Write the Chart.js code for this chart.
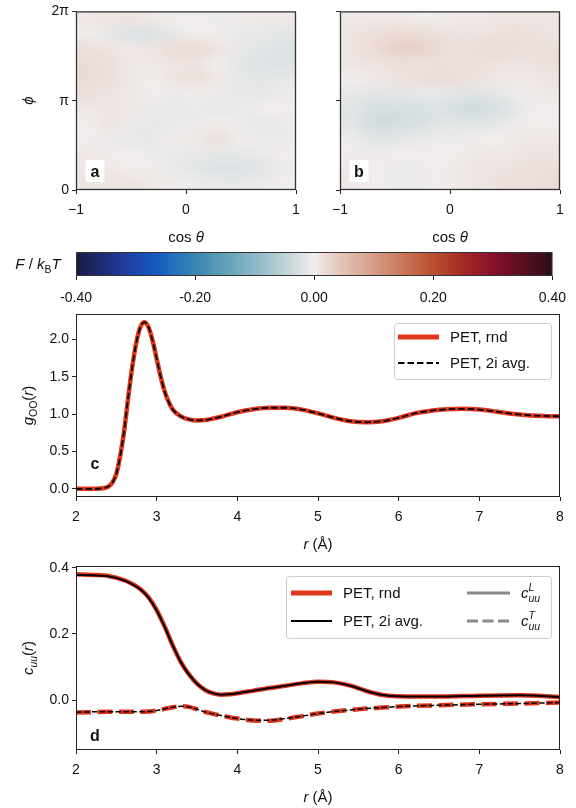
<!DOCTYPE html>
<html>
<head>
<meta charset="utf-8">
<script src="https://cdn.jsdelivr.net/npm/chart.js@4.4.0/dist/chart.umd.min.js"></script>
<style>
  body { margin: 0; background: #fff; }
  #page { position: relative; width: 576px; height: 808px; }
  #page canvas { position: absolute; left: 0; top: 0; pointer-events: none; }
</style>
</head>
<body>
<div id="page">
  <canvas id="mapA" width="576" height="808"></canvas>
  <canvas id="mapB" width="576" height="808"></canvas>
  <canvas id="cbar" width="576" height="808"></canvas>
  <canvas id="gofr" width="576" height="808"></canvas>
  <canvas id="cuu" width="576" height="808"></canvas>
</div>
<script>
const FONT = '"Liberation Sans", Arial, Helvetica, sans-serif';
Chart.defaults.font.family = FONT;
Chart.defaults.font.size = 14;
Chart.defaults.color = '#111';
Chart.defaults.animation = false;

// free energy maps, rows from phi = 2pi (top) down to 0, columns cos(theta) = -1 .. 1
const cosTicks = [-1, 0, 1];
const cosTickLabels = ['−1', '0', '1'];
const phiTicks = [0, Math.PI, 2 * Math.PI];
const phiTickLabels = ['0', 'π', '2π'];

const mapA = [
  [0.005, 0.01, 0.01, 0.005, 0, 0, -0.005, 0, 0.005, 0.005],
  [0, -0.01, -0.02, -0.02, -0.01, 0, 0, -0.01, -0.01, -0.015],
  [0.015, 0.01, 0.005, 0.01, 0.02, 0.02, 0.01, -0.01, -0.015, -0.02],
  [0.02, 0.015, 0.005, 0.005, 0.01, 0.01, 0, -0.015, -0.02, -0.02],
  [0.02, 0.015, 0.005, 0, 0.01, 0.015, 0.005, -0.01, -0.015, -0.01],
  [0.015, 0.01, 0.005, 0, -0.005, 0, -0.005, -0.01, -0.01, -0.005],
  [0.005, 0.01, 0.005, -0.005, -0.01, -0.005, -0.01, -0.005, 0, 0],
  [0, 0.01, -0.005, -0.01, -0.005, -0.005, 0, -0.005, -0.01, -0.005],
  [0, -0.005, -0.01, -0.01, 0, 0.005, 0.015, 0, -0.005, -0.005],
  [0.005, 0, 0, -0.005, -0.005, -0.01, -0.01, -0.01, -0.005, 0],
  [0.005, 0.005, 0, 0, -0.01, -0.015, -0.02, -0.02, -0.015, -0.005],
  [0.01, 0.01, 0.01, 0.005, 0, -0.005, -0.01, -0.01, -0.005, 0]
];
const mapB = [
  [0.005, 0.005, 0.005, 0, 0, 0.005, 0.005, 0.01, 0.01, 0.01],
  [0.01, 0.015, 0.02, 0.02, 0.015, 0.01, 0.01, 0.015, 0.015, 0.01],
  [0.01, 0.02, 0.03, 0.03, 0.02, 0.015, 0.02, 0.02, 0.015, 0.015],
  [0.01, 0.01, 0.015, 0.015, 0.015, 0.015, 0.015, 0.01, 0.01, 0.015],
  [0, 0.005, 0.01, 0.015, 0.02, 0.015, 0.01, 0.005, 0.005, 0.01],
  [-0.01, -0.015, -0.015, -0.01, -0.01, -0.015, -0.015, -0.01, 0, 0.005],
  [-0.015, -0.025, -0.025, -0.025, -0.02, -0.03, -0.03, -0.02, -0.005, 0],
  [-0.015, -0.03, -0.03, -0.025, -0.015, -0.015, -0.015, -0.01, 0, 0],
  [-0.005, -0.015, -0.015, -0.01, -0.005, -0.005, 0, 0, 0.005, 0.005],
  [0, -0.005, 0, 0, 0, 0, 0.005, 0.005, 0.01, 0.01],
  [0.005, 0, -0.005, -0.005, 0, 0.005, 0.01, 0.01, 0.015, 0.015],
  [0.005, 0, -0.005, -0.005, 0, 0.005, 0.01, 0.015, 0.015, 0.02]
];

const cbarTicks = [-0.4, -0.2, 0, 0.2, 0.4];

// oxygen-oxygen rdf
const rG = [2.0, 2.1, 2.2, 2.3, 2.35, 2.4, 2.45, 2.5, 2.55, 2.6, 2.65, 2.7, 2.75, 2.8, 2.85, 2.9,
  2.95, 3.0, 3.05, 3.1, 3.15, 3.2, 3.3, 3.4, 3.5, 3.6, 3.7, 3.8, 4.0, 4.2, 4.4, 4.6, 4.8, 5.0,
  5.2, 5.4, 5.6, 5.8, 6.0, 6.2, 6.4, 6.6, 6.8, 7.0, 7.2, 7.4, 7.6, 7.8, 8.0];
const gRnd = [0, 0, 0, 0.003, 0.01, 0.03, 0.08, 0.2, 0.45, 0.8, 1.25, 1.65, 1.97, 2.17, 2.23, 2.16,
  1.98, 1.74, 1.5, 1.3, 1.16, 1.06, 0.97, 0.93, 0.915, 0.92, 0.94, 0.965, 1.025, 1.065, 1.085, 1.085, 1.06, 1.01,
  0.95, 0.905, 0.89, 0.905, 0.95, 1.01, 1.045, 1.065, 1.07, 1.06, 1.035, 1.005, 0.985, 0.975, 0.97];
const gAvg = [0, 0, 0, 0.003, 0.01, 0.03, 0.08, 0.2, 0.45, 0.8, 1.25, 1.65, 1.97, 2.17, 2.23, 2.16,
  1.98, 1.74, 1.5, 1.3, 1.16, 1.06, 0.97, 0.93, 0.915, 0.92, 0.94, 0.965, 1.025, 1.065, 1.085, 1.085, 1.06, 1.01,
  0.95, 0.905, 0.89, 0.905, 0.95, 1.01, 1.045, 1.065, 1.07, 1.06, 1.035, 1.005, 0.985, 0.975, 0.97];

// dipole correlation, longitudinal (L) and transverse (T)
const rC = [2.0, 2.2, 2.4, 2.6, 2.8, 2.9, 3.0, 3.1, 3.2, 3.3, 3.4, 3.5, 3.6, 3.7, 3.8, 3.9, 4.0,
  4.2, 4.4, 4.6, 4.8, 5.0, 5.2, 5.4, 5.6, 5.8, 6.0, 6.2, 6.5, 7.0, 7.5, 8.0];
const cLRnd = [0.380, 0.378, 0.375, 0.362, 0.335, 0.31, 0.272, 0.222, 0.165, 0.115, 0.078, 0.05, 0.031,
  0.021, 0.017, 0.018, 0.021, 0.029, 0.037, 0.044, 0.051, 0.056, 0.054, 0.044, 0.028, 0.016, 0.012,
  0.011, 0.011, 0.014, 0.015, 0.01];
const cTRnd = [-0.037, -0.036, -0.035, -0.035, -0.035, -0.034, -0.031, -0.026, -0.021, -0.018, -0.02,
  -0.027, -0.035, -0.041, -0.046, -0.051, -0.055, -0.061, -0.062, -0.056, -0.048, -0.04, -0.034, -0.029,
  -0.025, -0.022, -0.019, -0.017, -0.015, -0.012, -0.01, -0.007];
const cLAvg = [0.378, 0.377, 0.374, 0.361, 0.334, 0.309, 0.271, 0.221, 0.165, 0.115, 0.078, 0.05, 0.031,
  0.021, 0.017, 0.018, 0.021, 0.029, 0.037, 0.044, 0.051, 0.056, 0.054, 0.044, 0.028, 0.016, 0.012,
  0.011, 0.011, 0.014, 0.015, 0.01];
const cTAvg = [-0.036, -0.035, -0.035, -0.035, -0.035, -0.034, -0.031, -0.026, -0.021, -0.018, -0.02,
  -0.027, -0.035, -0.041, -0.046, -0.051, -0.055, -0.06, -0.06, -0.055, -0.048, -0.04, -0.034, -0.029,
  -0.025, -0.022, -0.019, -0.017, -0.015, -0.012, -0.01, -0.007];

const rTicks = [2, 3, 4, 5, 6, 7, 8];
const gTicks = [0, 0.5, 1, 1.5, 2];
const cTicks = [0, 0.2, 0.4];

const RED = '#e0361a';
const INK = '#222';

// diverging colour map, blue - white - red
const balance = [
  [0.00, 24, 28, 67], [0.10, 33, 58, 155], [0.17, 20, 92, 195], [0.25, 58, 134, 176],
  [0.35, 122, 174, 190], [0.45, 200, 215, 219], [0.50, 241, 237, 236], [0.55, 228, 200, 190],
  [0.65, 210, 142, 115], [0.75, 184, 80, 46], [0.82, 162, 36, 36], [0.88, 132, 16, 45], [1.00, 45, 13, 20]
];
function cmap(t) {
  t = Math.min(1, Math.max(0, t));
  for (let i = 1; i < balance.length; i++) {
    if (t <= balance[i][0]) {
      const [p0, ...c0] = balance[i - 1];
      const [p1, ...c1] = balance[i];
      const f = (t - p0) / (p1 - p0);
      return c0.map((c, k) => Math.round(c + (c1[k] - c) * f));
    }
  }
  return balance[balance.length - 1].slice(1);
}

// text with italics, sub- and superscripts
function font(p, size) {
  return (p.i ? 'italic ' : '') + (p.b ? 'bold ' : '') + size + 'px ' + FONT;
}
function partWidth(ctx, p, size) {
  let w = 0;
  if (p.t) { ctx.font = font(p, size); w += ctx.measureText(p.t).width; }
  if (p.sub || p.sup) {
    ctx.font = font(p, size * 0.7);
    w += Math.max(p.sub ? ctx.measureText(p.sub).width : 0, p.sup ? ctx.measureText(p.sup).width : 0);
  }
  return w;
}
function drawRich(ctx, parts, x, y, size, align = 'center', rot = 0) {
  ctx.save();
  ctx.translate(x, y);
  ctx.rotate(rot);
  const total = parts.reduce((s, p) => s + partWidth(ctx, p, size), 0);
  let cx = align === 'center' ? -total / 2 : 0;
  const base = size * 0.36;
  ctx.textAlign = 'left';
  ctx.textBaseline = 'alphabetic';
  ctx.fillStyle = '#111';
  for (const p of parts) {
    if (p.t) {
      ctx.font = font(p, size);
      ctx.fillText(p.t, cx, base);
      cx += ctx.measureText(p.t).width;
    }
    if (p.sub || p.sup) {
      ctx.font = font(p, size * 0.7);
      let w = 0;
      if (p.sup) { ctx.fillText(p.sup, cx, base - size * 0.48); w = ctx.measureText(p.sup).width; }
      if (p.sub) { ctx.fillText(p.sub, cx, base + size * 0.25); w = Math.max(w, ctx.measureText(p.sub).width); }
      cx += w;
    }
  }
  ctx.restore();
}

// frame, axis titles and panel letter
function decor(o) {
  return {
    id: 'decor',
    afterDraw(chart) {
      const { ctx, chartArea: a } = chart;
      ctx.save();
      ctx.strokeStyle = o.frame || INK;
      ctx.lineWidth = o.frameWidth || 1;
      ctx.strokeRect(a.left + 0.5, a.top + 0.5, a.width - 1, a.height - 1);
      ctx.restore();
      if (o.xTitle) drawRich(ctx, o.xTitle, (a.left + a.right) / 2, a.bottom + o.xGap, 15);
      if (o.yTitle) drawRich(ctx, o.yTitle, o.yX, (a.top + a.bottom) / 2, 15, 'center', -Math.PI / 2);
      if (o.tag) {
        const tx = a.left + o.tag.dx, ty = a.bottom - o.tag.dy;
        if (o.tag.box) {
          ctx.fillStyle = '#fff';
          ctx.fillRect(tx - 9.5, ty - 11, 19, 22);
        }
        drawRich(ctx, [{ t: o.tag.t, b: true }], tx, ty, 16);
      }
    }
  };
}

// smooth image of a gridded map, stretched over the axis range
function heatPlugin(grid) {
  return {
    id: 'heat',
    beforeDatasetsDraw(chart) {
      const rows = grid.length, cols = grid[0].length;
      const off = document.createElement('canvas');
      off.width = cols;
      off.height = rows;
      const octx = off.getContext('2d');
      const img = octx.createImageData(cols, rows);
      grid.forEach((row, j) => row.forEach((v, i) => {
        const c = cmap((v - cbarTicks[0]) / (cbarTicks[4] - cbarTicks[0]));
        const k = (j * cols + i) * 4;
        img.data[k] = c[0]; img.data[k + 1] = c[1]; img.data[k + 2] = c[2]; img.data[k + 3] = 255;
      }));
      octx.putImageData(img, 0, 0);
      const { ctx, chartArea: a, scales } = chart;
      const x0 = scales.x.getPixelForValue(cosTicks[0]);
      const x1 = scales.x.getPixelForValue(cosTicks[2]);
      const y0 = scales.y.getPixelForValue(phiTicks[2]);
      const y1 = scales.y.getPixelForValue(phiTicks[0]);
      ctx.save();
      ctx.beginPath();
      ctx.rect(a.left, a.top, a.width, a.height);
      ctx.clip();
      ctx.imageSmoothingEnabled = true;
      ctx.imageSmoothingQuality = 'high';
      ctx.drawImage(off, x0, y0, x1 - x0, y1 - y0);
      ctx.restore();
    }
  };
}

// legend box in the upper right corner of the axes
function legendPlugin(box, items) {
  return {
    id: 'boxLegend',
    afterDraw(chart) {
      const { ctx, chartArea: a } = chart;
      const left = a.right - box.right - box.w, top = a.top + box.top;
      ctx.save();
      ctx.fillStyle = 'rgba(255,255,255,0.85)';
      ctx.strokeStyle = '#cccccc';
      ctx.lineWidth = 1;
      ctx.beginPath();
      ctx.roundRect(left + 0.5, top + 0.5, box.w, box.h, 3);
      ctx.fill();
      ctx.stroke();
      items.forEach(it => {
        ctx.beginPath();
        ctx.strokeStyle = it.color;
        ctx.lineWidth = it.width;
        ctx.setLineDash(it.dash || []);
        ctx.moveTo(left + it.x, top + it.y);
        ctx.lineTo(left + it.x + it.len, top + it.y);
        ctx.stroke();
        ctx.setLineDash([]);
        drawRich(ctx, it.label, left + it.x + it.len + 11, top + it.y, 15, 'left');
      });
      ctx.restore();
    }
  };
}

function pad(area, yW, xH) {
  return { left: area.l - yW, top: area.t, right: 576 - area.r, bottom: 808 - area.b - xH };
}
function fixedTicks(values) {
  return scale => { scale.ticks = values.map(v => ({ value: v })); };
}
function axis(min, max, ticks, fmt, extra) {
  return Object.assign({
    type: 'linear', min, max,
    afterBuildTicks: fixedTicks(ticks),
    ticks: { callback: fmt, autoSkip: false, maxRotation: 0, padding: 3, color: '#111', font: { size: 14 } },
    grid: { drawOnChartArea: false, drawTicks: true, tickLength: 4, color: INK },
    border: { display: false }
  }, extra || {});
}
function xAxis(min, max, ticks, fmt, pd) {
  const s = axis(min, max, ticks, fmt, { afterFit: sc => { sc.height = 30; } });
  s.ticks.padding = pd;
  return s;
}
function yAxis(min, max, ticks, fmt) {
  return axis(min, max, ticks, fmt, { afterFit: sc => { sc.width = 40; } });
}

const cosFmt = (v, i) => cosTickLabels[i];
const phiFmt = (v, i) => phiTickLabels[i];
const cosTitle = [{ t: 'cos ' }, { t: 'θ', i: true }];
const rTitle = [{ t: 'r', i: true }, { t: ' (Å)' }];

function mapChart(id, grid, area, withLabels, tag) {
  return new Chart(document.getElementById(id), {
    type: 'scatter',
    data: { datasets: [] },
    options: {
      responsive: false,
      layout: { padding: pad(area, 40, 30) },
      plugins: { legend: { display: false }, tooltip: { enabled: false } },
      scales: {
        x: xAxis(cosTicks[0], cosTicks[2], cosTicks, cosFmt, 8),
        y: yAxis(phiTicks[0], phiTicks[2], phiTicks, withLabels ? phiFmt : () => '')
      }
    },
    plugins: [heatPlugin(grid), decor({
      frame: '#333', frameWidth: 1.3,
      xTitle: cosTitle, xGap: 47,
      yTitle: withLabels ? [{ t: 'ϕ', i: true }] : null, yX: 28,
      tag: { t: tag, dx: 19, dy: 19, box: true }
    })]
  });
}

mapChart('mapA', mapA, { l: 76, t: 7, r: 296, b: 190 }, true, 'a');
mapChart('mapB', mapB, { l: 340, t: 7, r: 560, b: 190 }, false, 'b');

// colour bar
const cbArea = { l: 76, t: 252, r: 560, b: 276 };
new Chart(document.getElementById('cbar'), {
  type: 'bar',
  data: {
    labels: [''],
    datasets: [{
      data: [[cbarTicks[0], cbarTicks[4]]],
      borderWidth: 0,
      barPercentage: 1,
      categoryPercentage: 1,
      backgroundColor: c => {
        const ch = c.chart;
        if (!ch.chartArea) return '#eee';
        const xs = ch.scales.x;
        const g = ch.ctx.createLinearGradient(xs.getPixelForValue(cbarTicks[0]), 0, xs.getPixelForValue(cbarTicks[4]), 0);
        balance.forEach(s => g.addColorStop(s[0], 'rgb(' + s[1] + ',' + s[2] + ',' + s[3] + ')'));
        return g;
      }
    }]
  },
  options: {
    indexAxis: 'y',
    responsive: false,
    layout: { padding: { left: cbArea.l, top: cbArea.t, right: 576 - cbArea.r, bottom: 808 - cbArea.b - 30 } },
    plugins: { legend: { display: false }, tooltip: { enabled: false } },
    scales: {
      x: xAxis(cbarTicks[0], cbarTicks[4], cbarTicks, v => v.toFixed(2), 10),
      y: { display: false }
    }
  },
  plugins: [decor({ frame: '#333' }), {
    id: 'cbarTitle',
    afterDraw(chart) {
      const a = chart.chartArea;
      drawRich(chart.ctx, [{ t: 'F', i: true }, { t: ' / ' }, { t: 'k', i: true }, { sub: 'B' }, { t: 'T', i: true }],
        38, (a.top + a.bottom) / 2, 15);
    }
  }]
});

function pts(xs, ys) {
  return xs.map((x, i) => ({ x, y: ys[i] }));
}
// lower order is drawn on top, so the black lines sit over the red ones
const lineBase = { pointRadius: 0, cubicInterpolationMode: 'monotone', fill: false };

// g_OO(r)
new Chart(document.getElementById('gofr'), {
  type: 'line',
  data: {
    datasets: [
      Object.assign({ label: 'PET, rnd', data: pts(rG, gRnd), borderColor: RED, borderWidth: 4.5, order: 2 }, lineBase),
      Object.assign({ label: 'PET, 2i avg.', data: pts(rG, gAvg), borderColor: '#000', borderWidth: 1.8, borderDash: [6.5, 3], order: 1 }, lineBase)
    ]
  },
  options: {
    responsive: false,
    layout: { padding: pad({ l: 76, t: 314, r: 560, b: 497 }, 40, 30) },
    plugins: { legend: { display: false }, tooltip: { enabled: false } },
    scales: {
      x: xAxis(2, 8, rTicks, v => String(v), 8),
      y: yAxis(-0.11, 2.34, gTicks, v => v.toFixed(1))
    }
  },
  plugins: [decor({
    xTitle: rTitle, xGap: 47,
    yTitle: [{ t: 'g', i: true }, { sub: 'OO' }, { t: '(' }, { t: 'r', i: true }, { t: ')' }], yX: 28,
    tag: { t: 'c', dx: 19, dy: 34 }
  }), legendPlugin({ right: 9, top: 9, w: 157, h: 56 }, [
    { x: 4, y: 14, len: 41, color: RED, width: 5, label: [{ t: 'PET, rnd' }] },
    { x: 4, y: 40, len: 41, color: '#000', width: 2, dash: [6.5, 3], label: [{ t: 'PET, 2i avg.' }] }
  ])]
});

// c_uu(r)
new Chart(document.getElementById('cuu'), {
  type: 'line',
  data: {
    datasets: [
      Object.assign({ label: 'PET, rnd L', data: pts(rC, cLRnd), borderColor: RED, borderWidth: 4.5, order: 2 }, lineBase),
      Object.assign({ label: 'PET, rnd T', data: pts(rC, cTRnd), borderColor: RED, borderWidth: 4.5, borderDash: [15, 6.5], order: 2 }, lineBase),
      Object.assign({ label: 'PET, 2i avg. L', data: pts(rC, cLAvg), borderColor: '#000', borderWidth: 2, order: 1 }, lineBase),
      Object.assign({ label: 'PET, 2i avg. T', data: pts(rC, cTAvg), borderColor: '#000', borderWidth: 1.5, borderDash: [5.5, 2.4], order: 1 }, lineBase)
    ]
  },
  options: {
    responsive: false,
    layout: { padding: pad({ l: 76, t: 566, r: 560, b: 750 }, 40, 30) },
    plugins: { legend: { display: false }, tooltip: { enabled: false } },
    scales: {
      x: xAxis(2, 8, rTicks, v => String(v), 8),
      y: yAxis(-0.15, 0.405, cTicks, v => v.toFixed(1))
    }
  },
  plugins: [decor({
    xTitle: rTitle, xGap: 47,
    yTitle: [{ t: 'c', i: true }, { sub: 'uu', i: true }, { t: '(' }, { t: 'r', i: true }, { t: ')' }], yX: 28,
    tag: { t: 'd', dx: 19, dy: 15 }
  }), legendPlugin({ right: 9, top: 10, w: 265, h: 62 }, [
    { x: 5, y: 17, len: 41, color: RED, width: 5, label: [{ t: 'PET, rnd' }] },
    { x: 5, y: 45, len: 41, color: '#000', width: 2, label: [{ t: 'PET, 2i avg.' }] },
    { x: 181, y: 17, len: 43, color: '#888', width: 3, label: [{ t: 'c', i: true }, { sup: 'L', sub: 'uu', i: true }] },
    { x: 181, y: 45, len: 43, color: '#888', width: 3, dash: [11, 4.5], label: [{ t: 'c', i: true }, { sup: 'T', sub: 'uu', i: true }] }
  ])]
});
</script>
</body>
</html>
